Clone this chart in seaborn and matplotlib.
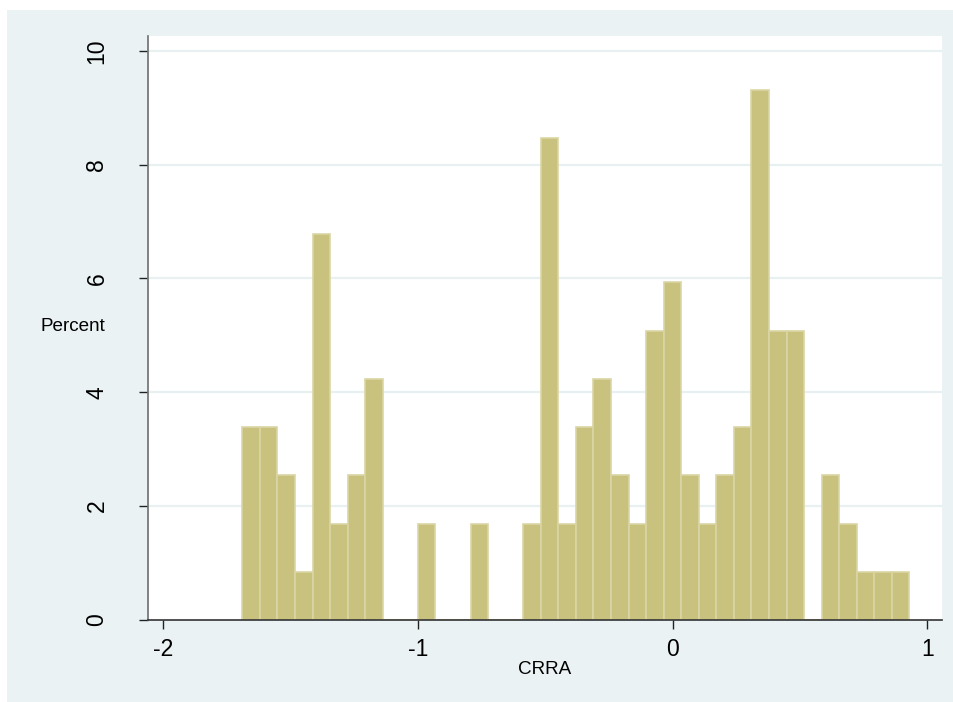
import numpy as np
import pandas as pd
import matplotlib
matplotlib.use("Agg")
import matplotlib.pyplot as plt
from matplotlib.patches import Rectangle
import seaborn as sns

# Histogram of CRRA estimates: 38 equal-width bins, heights in percent
bin_start = -1.689
bin_width = 0.0689
percent = [3.39, 3.39, 2.54, 0.85, 6.78, 1.69, 2.54, 4.24,
           0.00, 0.00, 1.69, 0.00, 0.00, 1.69, 0.00, 0.00,
           1.69, 8.47, 1.69, 3.39, 4.24, 2.54, 1.69, 5.08,
           5.93, 2.54, 1.69, 2.54, 3.39, 9.32, 5.08, 5.08,
           0.00, 2.54, 1.69, 0.85, 0.85, 0.85]
x_ticks = [-2, -1, 0, 1]
y_ticks = [0, 2, 4, 6, 8, 10]

n_bins = len(percent)
edges = [float(bin_start + bin_width * i) for i in range(n_bins + 1)]
centers = [(edges[i] + edges[i + 1]) / 2 for i in range(n_bins)]
df = pd.DataFrame({"CRRA": centers, "Percent": percent})

sns.set_theme(style="white")
plt.rcParams["font.family"] = ["Liberation Sans", "DejaVu Sans"]

W, H = 954, 702
fig = plt.figure(figsize=(W / 100, H / 100), dpi=100, facecolor="white")

# light blue-grey graph region behind the plot area
fig.patches.append(Rectangle((7 / W, 0), 1 - 7 / W, (H - 10) / H,
                             transform=fig.transFigure, facecolor="#EAF2F3",
                             edgecolor="none", zorder=-10))

ax = fig.add_axes([148 / W, (H - 620) / H, (942 - 148) / W, (620 - 36) / H])
ax.set_zorder(1)
ax.set_facecolor("white")

sns.histplot(data=df, x="CRRA", weights="Percent", bins=edges, stat="count",
             color="#C9C27E", edgecolor="#DAD6A4", linewidth=1.2, alpha=1,
             ax=ax, zorder=2)

ax.set_xlim(-2.059, 1.057)
ax.set_ylim(0, 10.26)
ax.set_xticks(x_ticks)
ax.set_xticklabels([str(t) for t in x_ticks])
ax.set_yticks(y_ticks)
ax.set_yticklabels([str(t) for t in y_ticks], rotation=90, va="center")

for t in y_ticks[1:]:
    ax.axhline(t, color="#E8F0F2", linewidth=1.6, zorder=1)

for s in ["top", "right"]:
    ax.spines[s].set_visible(False)
ax.spines["left"].set_color("#6E6E6E")
ax.spines["left"].set_linewidth(1.2)
ax.spines["bottom"].set_color("#333333")
ax.spines["bottom"].set_linewidth(1.2)

ax.tick_params(axis="both", which="major", direction="out", length=6.5,
               width=1, color="#222222", labelsize=16.5, labelcolor="black",
               left=True, bottom=True)
ax.tick_params(axis="y", pad=22)
ax.tick_params(axis="x", pad=6.5)

ax.set_xlabel("CRRA", fontsize=13.6, color="black", va="center")
ax.xaxis.set_label_coords(0.5, -0.0856)
ax.set_ylabel("Percent", fontsize=13.6, color="black", rotation=0,
              ha="center", va="center")
ax.yaxis.set_label_coords(-0.0945, 0.502)

fig.savefig("out.png", dpi=100, facecolor="white")
